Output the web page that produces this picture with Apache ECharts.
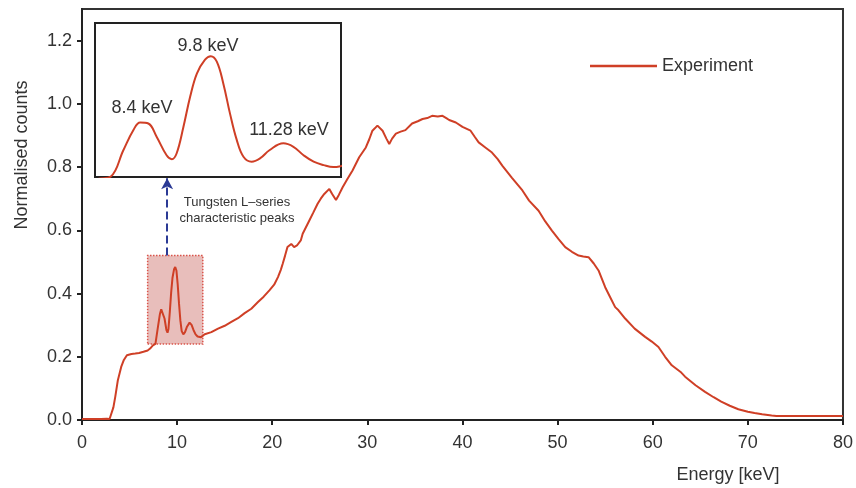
<!DOCTYPE html>
<html>
<head>
<meta charset="utf-8">
<script src="https://cdn.jsdelivr.net/npm/echarts@6/dist/echarts.min.js"></script>
<style>html,body{margin:0;padding:0;background:#fff}#c{width:856px;height:488px}</style>
</head>
<body>
<div id="c"></div>
<script>
// Energy (keV) and normalised counts
var energy = [0,1.0,2.0,2.6,2.75,2.9,3.07,3.3,3.5,3.77,4.12,4.4,4.72,5.2,5.6,6.0,6.46,6.9,7.16,7.45,
  7.72,7.98,8.19,8.33,8.5,8.675,8.88,8.99,9.09,9.23,9.37,9.51,9.68,9.8,9.925,10.06,10.2,10.34,10.48,10.65,
  10.83,11.02,11.31,11.52,11.73,11.94,12.15,12.35,12.51,12.9,13.6,14.3,15.0,15.7,16.4,17.1,17.8,18.5,19.1,19.7,
  20.2,20.6,20.9,21.1,21.35,21.6,22.0,22.3,22.6,23.0,23.2,23.9,24.3,24.77,25.1,25.47,26.0,26.3,26.7,27.0,
  27.4,27.9,28.44,29.14,29.84,30.2,30.53,31.06,31.6,32.0,32.3,32.6,33.0,33.5,34.0,34.7,35.3,35.8,36.3,36.8,
  37.4,37.9,38.3,38.6,39.3,40.0,40.85,41.3,41.7,42.4,43.1,43.7,44.2,45.2,46.3,47.0,48.0,48.7,49.4,50.1,
  50.8,51.5,52.2,52.7,53.25,53.8,54.3,55.0,55.5,56.05,56.4,57.1,58.1,59.2,59.9,60.6,61.3,62.0,63.0,63.4,
  64.5,65.5,66.4,67.2,68.1,69.0,70.0,70.7,71.5,72.5,73.0,80];
var counts = [0.003,0.003,0.003,0.004,0.008,0.003,0.0,0.04,0.074,0.126,0.168,0.19,0.205,0.209,0.21,0.212,0.216,0.22,0.226,0.236,
  0.241,0.294,0.335,0.35,0.348,0.321,0.284,0.276,0.288,0.341,0.402,0.449,0.477,0.484,0.473,0.429,0.368,0.315,0.281,0.271,
  0.278,0.294,0.308,0.301,0.284,0.271,0.264,0.26,0.262,0.271,0.278,0.289,0.298,0.31,0.322,0.338,0.352,0.373,0.39,0.41,
  0.428,0.452,0.475,0.494,0.52,0.547,0.557,0.547,0.552,0.568,0.589,0.631,0.655,0.684,0.70,0.715,0.731,0.715,0.696,0.712,
  0.736,0.762,0.789,0.831,0.862,0.888,0.915,0.931,0.915,0.89,0.873,0.89,0.906,0.912,0.917,0.938,0.945,0.952,0.955,0.962,
  0.96,0.962,0.955,0.949,0.941,0.927,0.915,0.895,0.878,0.862,0.846,0.825,0.804,0.766,0.726,0.694,0.662,0.628,0.599,0.572,
  0.547,0.532,0.52,0.517,0.515,0.495,0.473,0.42,0.39,0.357,0.347,0.321,0.289,0.263,0.248,0.231,0.2,0.173,0.15,0.137,
  0.11,0.089,0.072,0.058,0.045,0.034,0.026,0.022,0.018,0.014,0.013,0.013];
var yTicks = [0, 0.2, 0.4, 0.6, 0.8, 1.0, 1.2];
var peakLabels = ['8.4 keV', '9.8 keV', '11.28 keV'];
var seriesName = 'Experiment';
var xTitle = 'Energy [keV]';
var yTitle = 'Normalised counts';
var noteLines = ['Tungsten L\u2013series', 'characteristic peaks'];

var data = energy.map(function (e, i) { return [e, counts[i]]; });
var LINE = '#cf3f26';
var TXT = '#333333';
var FONT = '"Liberation Sans", Arial, sans-serif';

var chart = echarts.init(document.getElementById('c'), null, {renderer: 'canvas'});
function txt(x, y, s, size, extra) {
  var o = {type: 'text', x: x, y: y, z: 100,
    style: {text: s, fill: TXT, font: size + 'px ' + FONT, align: 'center', verticalAlign: 'middle'}};
  if (extra) for (var k in extra) o[k] = extra[k];
  return o;
}
chart.setOption({
  animation: false,
  backgroundColor: '#fff',
  grid: [
    {left: 82, right: 11, top: 9, bottom: 68, show: true, borderColor: '#333', borderWidth: 2, backgroundColor: 'transparent'},
    {left: 95, top: 23, width: 246, height: 154, show: true, borderColor: '#222', borderWidth: 2, backgroundColor: '#fff', z: 5}
  ],
  legend: {
    data: [{name: seriesName, icon: 'rect'}], left: 585, top: 52, itemWidth: 67, itemHeight: 2.5,
    textStyle: {fontSize: 18, color: TXT, fontFamily: FONT}
  },
  xAxis: [
    {type: 'value', gridIndex: 0, min: 0, max: 80, interval: 10,
      axisLine: {show: true, onZero: false, lineStyle: {color: '#222', width: 2}},
      axisTick: {show: true, inside: false, length: 5, lineStyle: {color: '#222', width: 2}},
      axisLabel: {fontSize: 18, color: TXT, margin: 14, fontFamily: FONT},
      splitLine: {show: false}},
    {type: 'value', gridIndex: 1, min: 7.39, max: 12.51, show: false, splitLine: {show: false}}
  ],
  yAxis: [
    {type: 'value', gridIndex: 0, min: 0, max: 1.3,
      axisLine: {show: true, onZero: false, lineStyle: {color: '#222', width: 2}},
      axisTick: {show: true, inside: false, length: 5, customValues: yTicks, lineStyle: {color: '#222', width: 2}},
      axisLabel: {fontSize: 18, color: TXT, margin: 10, fontFamily: FONT, customValues: yTicks,
        formatter: function (v) { return v.toFixed(1); }},
      splitLine: {show: false}},
    {type: 'value', gridIndex: 1, min: 0.24, max: 0.551, show: false, splitLine: {show: false}}
  ],
  series: [
    {name: seriesName, type: 'line', xAxisIndex: 0, yAxisIndex: 0, data: data, symbol: 'none',
      lineStyle: {color: LINE, width: 2}, itemStyle: {color: LINE}, z: 3,
      markArea: {silent: true, itemStyle: {color: 'rgba(205,110,105,0.45)', borderColor: '#d9534a', borderWidth: 1.5, borderType: 'dotted'},
        data: [[{xAxis: 6.9, yAxis: 0.24}, {xAxis: 12.7, yAxis: 0.52}]]},
      markLine: {silent: true, symbol: ['none', 'arrow'], symbolSize: [9, 11],
        lineStyle: {color: '#2b3a95', width: 2, type: 'dashed'}, label: {show: false},
        data: [[{coord: [8.95, 0.52]}, {coord: [8.95, 0.765]}]]}},
    {name: 'inset', type: 'line', xAxisIndex: 1, yAxisIndex: 1, data: data, symbol: 'none', smooth: 0.4,
      lineStyle: {color: LINE, width: 2}, itemStyle: {color: LINE}, clip: true, z: 6}
  ],
  graphic: [
    txt(728, 475, xTitle, 18),
    txt(22, 155, yTitle, 18, {rotation: Math.PI / 2}),
    txt(142, 108, peakLabels[0], 18),
    txt(208, 46, peakLabels[1], 18),
    txt(289, 130, peakLabels[2], 18),
    txt(237, 202, noteLines[0], 13),
    txt(237, 218, noteLines[1], 13)
  ]
});
</script>
</body>
</html>
